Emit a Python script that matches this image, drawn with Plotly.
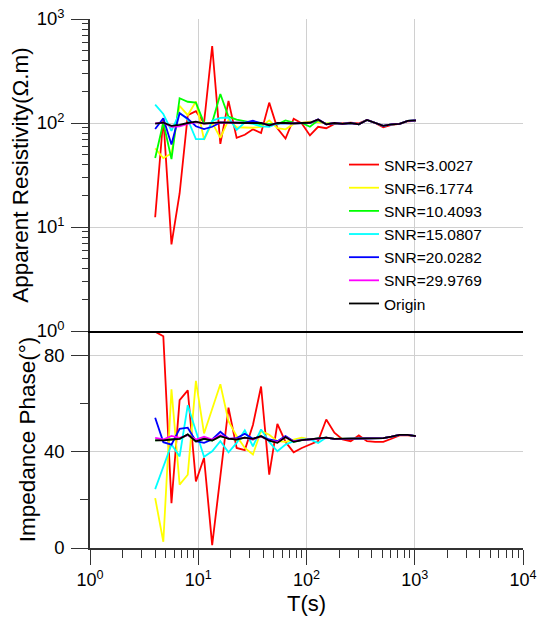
import plotly.graph_objects as go

# Periods (s)
T = [4, 4.757, 5.657, 6.727, 8, 9.514, 11.31, 13.45, 16, 19.03, 22.63, 26.91, 32,
     38.05, 45.25, 53.82, 64, 76.11, 90.51, 107.6, 128, 152.2, 181.0, 215.3, 256,
     304.4, 362.0, 430.5, 512, 608.9, 724.1, 861.1, 1024]

series_names = ["SNR=3.0027", "SNR=6.1774", "SNR=10.4093", "SNR=15.0807",
                "SNR=20.0282", "SNR=29.9769", "Origin"]
series_colors = ["#FF0000", "#FFFF00", "#00FF00", "#00FFFF", "#0000FF", "#FF00FF", "#000000"]

# Apparent resistivity (ohm.m)
rho_snr3 = [12.4, 111, 6.8, 21, 119, 130, 100, 550, 63, 163, 72, 77, 87, 80, 157, 89, 71,
            110, 99, 76, 92, 89, 98, 100, 101, 99, 107, 100, 91, 96, 98, 104, 105]
rho_snr6 = [57, 46, 51, 146, 119, 161, 69, 101, 72, 107, 91, 91, 90, 92, 106, 89, 87,
            98, 100, 103, 102, 99, 100, 98, 100, 97, 107, 101, 94, 97, 98, 105, 106]
rho_snr10 = [46, 101, 45, 173, 160, 157, 100, 101, 190, 115, 108, 104, 100, 97, 98, 97, 106,
             101, 100, 92, 106, 98, 100, 98, 100, 97, 107, 101, 94, 97, 98, 105, 106]
rho_snr15 = [150, 122, 84, 125, 108, 70, 70, 105, 112, 113, 86, 101, 98, 93, 92, 99, 100,
             99, 100, 100, 108, 97, 100, 98, 100, 97, 107, 101, 94, 97, 98, 105, 106]
rho_snr20 = [87.5, 111, 62, 124, 110, 93, 87.5, 92, 101, 101, 100, 101, 105, 100, 95, 99, 100,
             99, 100, 100, 108, 97, 100, 98, 100, 97, 107, 101, 94, 97, 98, 105, 106]
rho_snr30 = [99, 101, 92, 93, 98, 102, 98.5, 100, 101, 101, 100, 100, 100, 100, 95, 100, 100,
             99, 100, 100.5, 108, 97, 100, 98, 100, 97, 107, 101, 94, 97, 98, 105, 106]
rho_origin = [98.5, 101, 94, 96, 100, 103, 98.5, 100, 101.5, 101, 100, 100, 100, 100, 95, 100, 100,
              99, 100, 100.5, 108, 97, 100, 98, 100, 97, 107, 101, 94, 97, 98, 105, 106]

# Impedance phase (deg)
ph_snr3 = [89.7, 87.8, 18.6, 61.3, 65.4, 27.6, 37.4, 1.2, 29.7, 58.2, 41.5, 40.6, 51, 67, 30.4,
           51.5, 44, 39.7, 41.5, 42.9, 44.3, 53.3, 47.8, 45, 44.3, 46.7, 44.3, 44, 44, 45.3,
           46.7, 46.7, 46.4]
ph_snr6 = [20.7, 2.6, 65.8, 26.3, 30.4, 69.3, 47.5, 57.5, 67.9, 52.6, 46.4, 41.5, 38.8, 48.5,
           47, 44.3, 44, 45, 45.8, 45, 45.3, 45.8, 45.3, 45.3, 45.3, 45.3, 45.3, 45.3, 45.6,
           46.2, 46.9, 46.9, 46.4]
ph_snr10 = [44.6, 44.8, 45, 45.3, 47, 44.3, 45.3, 44.6, 46.4, 45.4, 45, 45.8, 45, 46.4, 44.5,
            43.8, 46, 44, 44.7, 45, 45.3, 45.8, 45.3, 45.3, 45.3, 45.3, 45.3, 45.3, 45.6,
            46.2, 46.9, 46.9, 46.4]
ph_snr15 = [24.4, 33.9, 42.9, 38, 59.2, 48.5, 37.8, 40.1, 44.3, 39.7, 43.6, 48.8, 42.2, 49.2,
            44, 40.1, 42.9, 44.3, 45, 45, 43.6, 45.8, 45.3, 45.3, 45.3, 45.3, 45.3, 45.3, 45.6,
            46.2, 46.9, 46.9, 46.4]
ph_snr20 = [54, 43.9, 42.9, 49.4, 49.9, 44.3, 43.6, 45, 48.2, 45.3, 45.6, 47.4, 45.3, 46.4,
            45, 44.3, 46.4, 44.3, 44.7, 45, 45.3, 45.8, 45.3, 45.3, 45.3, 45.3, 45.3, 45.3,
            45.6, 46.2, 46.9, 46.9, 46.4]
ph_snr30 = [45.7, 45, 46.5, 45.7, 46.8, 45, 46.2, 45, 46.8, 45.5, 45.3, 45.8, 45, 46.3, 44.5,
            44, 46, 44.2, 44.8, 45, 45.3, 45.8, 45.3, 45.3, 45.3, 45.3, 45.3, 45.3, 45.6,
            46.2, 46.9, 46.9, 46.4]
ph_origin = [44.6, 44.6, 45, 45.3, 47.1, 44.2, 45.3, 44.6, 46.4, 45.4, 45, 45.8, 45.3, 46.4,
             44.5, 43.6, 46, 44, 44.7, 45, 45.3, 45.8, 45.3, 45.3, 45.3, 45.3, 45.3, 45.3,
             45.6, 46.2, 46.9, 46.9, 46.4]

rho_all = [rho_snr3, rho_snr6, rho_snr10, rho_snr15, rho_snr20, rho_snr30, rho_origin]
ph_all = [ph_snr3, ph_snr6, ph_snr10, ph_snr15, ph_snr20, ph_snr30, ph_origin]

x_tickvals = [1, 10, 100, 1000, 10000]
x_ticktext = ["10<sup>0</sup>", "10<sup>1</sup>", "10<sup>2</sup>", "10<sup>3</sup>", "10<sup>4</sup>"]
rho_tickvals = [1, 10, 100, 1000]
rho_ticktext = ["10<sup>0</sup>", "10<sup>1</sup>", "10<sup>2</sup>", "10<sup>3</sup>"]
ph_tickvals = [0, 40, 80]
ph_ticktext = ["0", "40", "80"]

FONT = "Liberation Sans, Arial, sans-serif"
GRID = "#d0d0d0"
AX = "#333333"

fig = go.Figure()
for name, color, rho in zip(series_names, series_colors, rho_all):
    fig.add_trace(go.Scatter(x=T, y=rho, mode="lines", name=name,
                             line=dict(color=color, width=1.8),
                             xaxis="x2", yaxis="y2", legendgroup=name))
for name, color, ph in zip(series_names, series_colors, ph_all):
    fig.add_trace(go.Scatter(x=T, y=ph, mode="lines", name=name,
                             line=dict(color=color, width=1.8),
                             xaxis="x", yaxis="y", legendgroup=name, showlegend=False))

minor_log_x = [m * 10 ** d for d in range(4) for m in range(2, 10)]
minor_log_y = [m * 10 ** d for d in range(3) for m in range(2, 10)]

split = 217 / 529

fig.update_layout(
    width=543, height=624,
    margin=dict(l=90, r=20, t=19, b=76, autoexpand=False),
    paper_bgcolor="white", plot_bgcolor="white",
    font=dict(family=FONT, size=18, color="black"),
    showlegend=True,
    legend=dict(x=(344 - 90) / 433, y=1 - (148 - 19) / 529, xanchor="left", yanchor="top",
                bgcolor="rgba(0,0,0,0)", font=dict(size=15.5, family=FONT),
                tracegroupgap=0, itemwidth=30),
    xaxis=dict(type="log", range=[0, 4], anchor="y", domain=[0, 1], automargin=False,
               tickmode="array", tickvals=x_tickvals, ticktext=x_ticktext,
               ticks="outside", ticklen=15, tickwidth=1, tickcolor=AX,
               minor=dict(tickmode="array", tickvals=minor_log_x, ticks="outside",
                          ticklen=8, tickcolor=AX, showgrid=False),
               showline=True, linecolor=AX, linewidth=1.5,
               showgrid=True, gridcolor=GRID, gridwidth=1, zeroline=False,
               title=dict(text="T(s)", font=dict(size=22), standoff=6),
               tickfont=dict(size=18)),
    xaxis2=dict(type="log", range=[0, 4], anchor="y2", domain=[0, 1], matches="x",
                automargin=False,
                tickmode="array", tickvals=x_tickvals, showticklabels=False, ticks="",
                showline=True, linecolor="#000000", linewidth=1.5,
                showgrid=True, gridcolor=GRID, gridwidth=1, zeroline=False),
    yaxis=dict(range=[0, 90], domain=[0, split], anchor="x", automargin=False,
               tickmode="array", tickvals=ph_tickvals, ticktext=ph_ticktext,
               ticks="outside", ticklen=17, tickcolor=AX, ticklabelstandoff=3,
               minor=dict(dtick=20, tick0=0, ticks="outside", ticklen=8, tickcolor=AX,
                          showgrid=False),
               showline=True, linecolor=AX, linewidth=1.5,
               showgrid=True, gridcolor=GRID, zeroline=False,
               title=dict(text="Impedance Phase(°)", font=dict(size=22.5), standoff=2),
               tickfont=dict(size=18.5)),
    yaxis2=dict(type="log", range=[0, 3], domain=[split, 1], anchor="x2", automargin=False,
                tickmode="array", tickvals=rho_tickvals, ticktext=rho_ticktext,
                ticks="outside", ticklen=17, tickcolor=AX, ticklabelstandoff=3,
                minor=dict(tickmode="array", tickvals=minor_log_y, ticks="outside",
                           ticklen=6, tickcolor=AX, showgrid=False),
                showline=True, linecolor=AX, linewidth=1.5,
                showgrid=True, gridcolor=GRID, zeroline=False,
                title=dict(text="Apparent Resistivity(Ω.m)", font=dict(size=22.5), standoff=2),
                tickfont=dict(size=18.5)),
)

fig.write_html("out.html")
